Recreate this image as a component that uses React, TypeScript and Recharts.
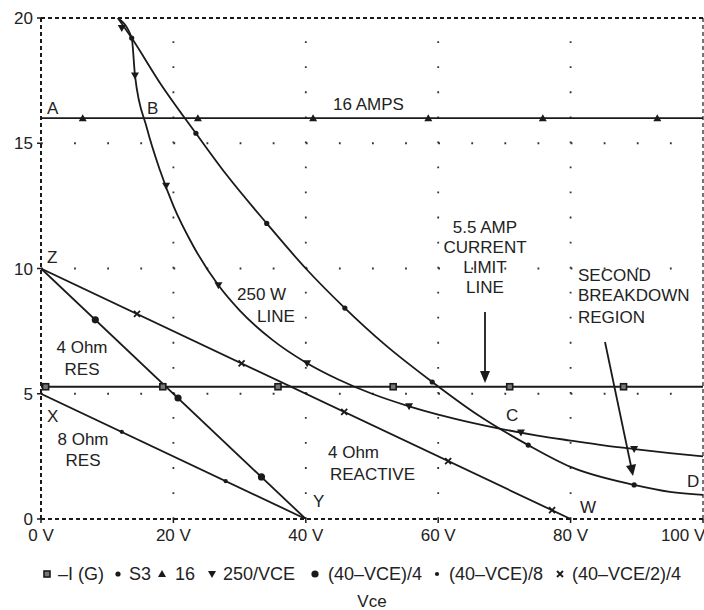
import React from 'react';
import { ComposedChart, Line, Scatter, XAxis, YAxis, ReferenceLine } from 'recharts';

// ---- axis ticks ----
const xTicks = [0, 20, 40, 60, 80, 100];
const xTickLabels = ['0 V', '20 V', '40 V', '60 V', '80 V', '100 V'];
const yTicks = [0, 5, 10, 15, 20];
const hGridValues = [5, 10, 15];
const vGridValues = [20, 40, 60, 80];

// ---- series: -I (G)  (5.5 A current limit line) ----
const limitLine = [{ v: 0, i: 5.28 }, { v: 100, i: 5.28 }];
const limitMarks = [
  { v: 0.7, i: 5.28 }, { v: 18.4, i: 5.28 }, { v: 35.8, i: 5.28 },
  { v: 53.2, i: 5.28 }, { v: 70.8, i: 5.28 }, { v: 88.0, i: 5.28 },
];

// ---- series: S3 ----
const s3Line = [
  { v: 11.6, i: 20 }, { v: 13.7, i: 19.2 }, { v: 18, i: 17.4 }, { v: 23.4, i: 15.4 },
  { v: 28, i: 13.75 }, { v: 34.1, i: 11.8 }, { v: 40, i: 10.0 }, { v: 45.9, i: 8.42 },
  { v: 52, i: 6.95 }, { v: 59.1, i: 5.47 }, { v: 66, i: 4.15 }, { v: 73.6, i: 2.95 },
  { v: 80, i: 2.08 }, { v: 89.6, i: 1.36 }, { v: 95, i: 1.08 }, { v: 100, i: 0.96 },
];
const s3Marks = [
  { v: 13.7, i: 19.2 }, { v: 23.4, i: 15.4 }, { v: 34.1, i: 11.8 }, { v: 45.9, i: 8.42 },
  { v: 59.1, i: 5.47 }, { v: 73.6, i: 2.95 }, { v: 89.6, i: 1.36 },
];

// ---- series: 16 A ----
const ampsLine = [{ v: 0, i: 16 }, { v: 100, i: 16 }];
const ampsMarks = [
  { v: 6.3, i: 16 }, { v: 23.7, i: 16 }, { v: 41.1, i: 16 },
  { v: 58.5, i: 16 }, { v: 75.8, i: 16 }, { v: 93.1, i: 16 },
];

// ---- series: 250/VCE ----
const wattLine = [
  { v: 11.6, i: 20 }, { v: 13.7, i: 19.2 }, { v: 14.2, i: 17.7 }, { v: 16, i: 15.6 },
  { v: 18, i: 13.9 }, { v: 20, i: 12.5 }, { v: 23, i: 10.9 }, { v: 26.8, i: 9.33 },
  { v: 30, i: 8.33 }, { v: 35, i: 7.14 }, { v: 40, i: 6.25 }, { v: 45, i: 5.56 },
  { v: 50, i: 5.0 }, { v: 55.6, i: 4.5 }, { v: 60, i: 4.17 }, { v: 65, i: 3.85 },
  { v: 70, i: 3.57 }, { v: 75, i: 3.33 }, { v: 80, i: 3.13 }, { v: 85, i: 2.94 },
  { v: 90, i: 2.78 }, { v: 95, i: 2.63 }, { v: 100, i: 2.5 },
];
const wattMarks = [
  { v: 12.2, i: 19.6 }, { v: 14.2, i: 17.7 }, { v: 18.9, i: 13.3 }, { v: 26.8, i: 9.33 },
  { v: 40.2, i: 6.22 }, { v: 55.6, i: 4.5 }, { v: 72.5, i: 3.45 }, { v: 89.6, i: 2.79 },
];

// ---- series: (40-VCE)/4 ----
const res4Line = [{ v: 0, i: 10 }, { v: 40, i: 0 }];
const res4Marks = [{ v: 8.2, i: 7.95 }, { v: 20.7, i: 4.83 }, { v: 33.3, i: 1.68 }];

// ---- series: (40-VCE)/8 ----
const res8Line = [{ v: 0, i: 5 }, { v: 40, i: 0 }];
const res8Marks = [{ v: 12.2, i: 3.48 }, { v: 27.9, i: 1.51 }];

// ---- series: (40-VCE/2)/4 ----
const reactLine = [{ v: 0, i: 10 }, { v: 80, i: 0 }];
const reactMarks = [
  { v: 14.5, i: 8.19 }, { v: 30.3, i: 6.21 }, { v: 45.8, i: 4.28 },
  { v: 61.5, i: 2.31 }, { v: 77.2, i: 0.35 },
];

const legendNames = ['\u2013I (G)', 'S3', '16', '250/VCE', '(40\u2013VCE)/4', '(40\u2013VCE)/8', '(40\u2013VCE/2)/4'];

const ink = '#1a1a1a';
const FONT = '"Liberation Sans", Arial, Helvetica, sans-serif';

const SquareMark = (p: any) => (
  <rect x={p.cx - 3} y={p.cy - 3} width={6} height={6} fill="#777" stroke={ink} strokeWidth={1.6} />
);
const SmallDot = (p: any) => <circle cx={p.cx} cy={p.cy} r={2.6} fill={ink} />;
const TinyDot = (p: any) => <circle cx={p.cx} cy={p.cy} r={2.1} fill={ink} />;
const BigDot = (p: any) => <circle cx={p.cx} cy={p.cy} r={3.6} fill={ink} />;
const TriUp = (p: any) => (
  <polygon points={`${p.cx - 4},${p.cy + 3} ${p.cx + 4},${p.cy + 3} ${p.cx},${p.cy - 4}`} fill={ink} />
);
const TriDown = (p: any) => (
  <polygon points={`${p.cx - 4},${p.cy - 3} ${p.cx + 4},${p.cy - 3} ${p.cx},${p.cy + 4}`} fill={ink} />
);
const Cross = (p: any) => (
  <path d={`M${p.cx - 3},${p.cy - 3}L${p.cx + 3},${p.cy + 3}M${p.cx + 3},${p.cy - 3}L${p.cx - 3},${p.cy + 3}`} stroke={ink} strokeWidth={1.8} />
);

const lineProps = { stroke: ink, strokeWidth: 1.8, dot: false, activeDot: false, isAnimationActive: false, legendType: 'none' as const };

export default function App() {
  const txt = { fontFamily: FONT, fontSize: 17, fill: '#222' } as const;
  // legend layout: marker center x, text start x
  const legendLayout = [
    { mx: 47, tx: 58 },
    { mx: 118, tx: 129 },
    { mx: 162, tx: 175 },
    { mx: 212, tx: 223 },
    { mx: 315, tx: 328 },
    { mx: 437, tx: 449 },
    { mx: 560, tx: 572 },
  ];
  const legendMarks = [SquareMark, SmallDot, TriUp, TriDown, BigDot, TinyDot, Cross];
  const legendY = 574;

  return (
    <div style={{ position: 'relative', width: 704, height: 610, background: '#fff' }}>
      <style>{'body{margin:0;background:#fff}'}</style>
      <ComposedChart width={704} height={610} margin={{ top: 18, right: 1, bottom: 0, left: 0 }}>
        <XAxis
          type="number"
          dataKey="v"
          domain={[0, 100]}
          ticks={xTicks}
          tickFormatter={(v: number) => xTickLabels[xTicks.indexOf(v)] ?? String(v)}
          height={91}
          tickSize={4}
          tickMargin={6}
          tickLine={{ stroke: ink, strokeWidth: 1.5 }}
          axisLine={{ stroke: ink, strokeWidth: 2, strokeDasharray: '4 3' }}
          tick={{ ...txt }}
          label={{ value: 'Vce', position: 'insideBottom', offset: 3, style: { ...txt } }}
          allowDataOverflow
        />
        <YAxis
          type="number"
          dataKey="i"
          domain={[0, 20]}
          ticks={yTicks}
          width={41}
          tickSize={4}
          tickMargin={4}
          tickLine={{ stroke: ink, strokeWidth: 1.5 }}
          axisLine={{ stroke: ink, strokeWidth: 2, strokeDasharray: '4 3' }}
          tick={{ ...txt }}
          allowDataOverflow
        />
        {hGridValues.map((y) => (
          <ReferenceLine key={'h' + y} y={y} stroke="#333" strokeWidth={1.8} strokeDasharray="1.8 31.3" />
        ))}
        {vGridValues.map((x) => (
          <ReferenceLine key={'v' + x} x={x} stroke="#333" strokeWidth={1.8} strokeDasharray="1.8 23.25" />
        ))}
        <ReferenceLine y={20} stroke={ink} strokeWidth={2} strokeDasharray="4 3" />
        <ReferenceLine x={100} stroke={ink} strokeWidth={1.2} strokeDasharray="4 3" />

        <Line data={limitLine} dataKey="i" type="linear" name={legendNames[0]} {...lineProps} />
        <Line data={s3Line} dataKey="i" type="monotone" name={legendNames[1]} {...lineProps} />
        <Line data={ampsLine} dataKey="i" type="linear" name={legendNames[2]} {...lineProps} />
        <Line data={wattLine} dataKey="i" type="monotone" name={legendNames[3]} {...lineProps} />
        <Line data={res4Line} dataKey="i" type="linear" name={legendNames[4]} {...lineProps} />
        <Line data={res8Line} dataKey="i" type="linear" name={legendNames[5]} {...lineProps} />
        <Line data={reactLine} dataKey="i" type="linear" name={legendNames[6]} {...lineProps} />

        <Scatter data={limitMarks} shape={SquareMark} isAnimationActive={false} legendType="none" />
        <Scatter data={s3Marks} shape={SmallDot} isAnimationActive={false} legendType="none" />
        <Scatter data={ampsMarks} shape={TriUp} isAnimationActive={false} legendType="none" />
        <Scatter data={wattMarks} shape={TriDown} isAnimationActive={false} legendType="none" />
        <Scatter data={res4Marks} shape={BigDot} isAnimationActive={false} legendType="none" />
        <Scatter data={res8Marks} shape={TinyDot} isAnimationActive={false} legendType="none" />
        <Scatter data={reactMarks} shape={Cross} isAnimationActive={false} legendType="none" />
      </ComposedChart>

      <svg width={704} height={610} style={{ position: 'absolute', left: 0, top: 0, pointerEvents: 'none' }}>
        <g style={{ fontFamily: FONT, fontSize: 17 }} fill="#222">
          <text x={47} y={114}>A</text>
          <text x={147} y={114}>B</text>
          <text x={333} y={110}>16 AMPS</text>
          <text x={47} y={263}>Z</text>
          <text x={47} y={422}>X</text>
          <text x={313} y={507}>Y</text>
          <text x={580} y={513}>W</text>
          <text x={506} y={421}>C</text>
          <text x={687} y={487}>D</text>
          <text x={237} y={300}>250 W</text>
          <text x={257} y={322}>LINE</text>
          <text x={82} y={353} textAnchor="middle">4 Ohm</text>
          <text x={82} y={375} textAnchor="middle">RES</text>
          <text x={83} y={445} textAnchor="middle">8 Ohm</text>
          <text x={83} y={466} textAnchor="middle">RES</text>
          <text x={328} y={458}>4 Ohm</text>
          <text x={330} y={480}>REACTIVE</text>
          <text x={485} y={233} textAnchor="middle">5.5 AMP</text>
          <text x={485} y={253} textAnchor="middle">CURRENT</text>
          <text x={485} y={273} textAnchor="middle">LIMIT</text>
          <text x={485} y={293} textAnchor="middle">LINE</text>
          <text x={578} y={281}>SECOND</text>
          <text x={578} y={301}>BREAKDOWN</text>
          <text x={578} y={323}>REGION</text>
        </g>
        <line x1={485} y1={312} x2={485} y2={372} stroke={ink} strokeWidth={1.8} />
        <polygon points="480,371 490,371 485,383" fill={ink} />
        <line x1={605} y1={342} x2={631} y2={466} stroke={ink} strokeWidth={1.8} />
        <polygon points="626,466 636,464 633,476" fill={ink} />

        <g style={{ fontFamily: FONT, fontSize: 18 }} fill="#222">
          {legendLayout.map((l, k) => {
            const M = legendMarks[k];
            return (
              <g key={k}>
                <M cx={l.mx} cy={legendY} />
                <text x={l.tx} y={legendY + 6}>{legendNames[k]}</text>
              </g>
            );
          })}
        </g>
      </svg>
    </div>
  );
}
